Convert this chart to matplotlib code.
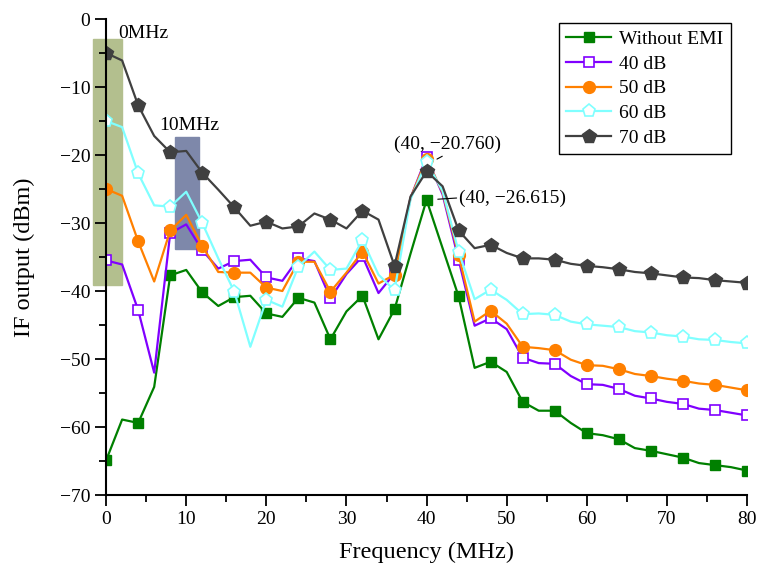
import numpy as np
import matplotlib
matplotlib.use('Agg')
import matplotlib.pyplot as plt
from matplotlib.patches import Rectangle

plt.rcParams['font.family'] = ['Liberation Serif', 'DejaVu Serif']
plt.rcParams['font.size'] = 14

freq = np.arange(0, 82, 2)

without_emi = [-64.9, -58.9, -59.4, -54.1, -37.7, -36.9, -40.2, -42.2, -40.9, -40.7,
               -43.3, -43.8, -41.0, -41.7, -47.1, -43.0, -40.7, -47.1, -42.7, -34.5,
               -26.6, -33.7, -40.8, -51.3, -50.4, -51.9, -56.3, -57.6, -57.6, -59.4,
               -60.9, -61.2, -61.8, -63.1, -63.5, -64.0, -64.5, -65.3, -65.6, -65.9,
               -66.4]
db40 = [-35.5, -36.1, -42.8, -52.0, -31.5, -30.2, -34.0, -36.7, -35.6, -35.4,
        -38.0, -38.5, -35.2, -35.6, -41.1, -37.5, -34.9, -40.3, -37.4, -26.3,
        -20.3, -25.8, -35.4, -45.1, -44.0, -45.6, -49.8, -50.6, -50.7, -52.5,
        -53.7, -53.8, -54.4, -55.4, -55.8, -56.3, -56.6, -57.3, -57.5, -57.9,
        -58.3]
db50 = [-25.0, -26.0, -32.7, -38.6, -31.1, -28.8, -33.4, -37.2, -37.3, -37.3,
        -39.5, -40.0, -35.7, -35.7, -40.1, -37.3, -34.2, -38.9, -37.6, -26.3,
        -20.6, -25.5, -34.7, -44.5, -42.9, -44.8, -48.2, -48.4, -48.7, -50.1,
        -50.9, -51.0, -51.5, -52.2, -52.5, -52.9, -53.2, -53.6, -53.8, -54.2,
        -54.6]
db60 = [-15.0, -15.9, -22.7, -27.4, -27.6, -25.4, -30.0, -35.2, -40.1, -48.2,
        -41.3, -42.3, -36.4, -34.2, -36.9, -36.7, -32.5, -37.6, -39.9, -26.5,
        -21.0, -25.3, -34.2, -41.2, -39.8, -41.3, -43.4, -43.3, -43.5, -44.5,
        -44.9, -45.1, -45.3, -45.9, -46.1, -46.5, -46.7, -47.1, -47.2, -47.5,
        -47.7]
db70 = [-5.0, -6.1, -12.7, -17.2, -19.6, -19.4, -22.6, -25.1, -27.7, -30.4,
        -29.8, -30.8, -30.5, -28.6, -29.5, -30.8, -28.2, -29.5, -36.3, -26.1,
        -22.4, -24.6, -31.1, -33.7, -33.2, -34.4, -35.2, -35.2, -35.4, -36.0,
        -36.3, -36.5, -36.8, -37.2, -37.4, -37.7, -38.0, -38.1, -38.4, -38.6,
        -38.8]

fig = plt.figure(figsize=(7.58, 5.69), dpi=100)
ax = fig.add_axes([0.14, 0.13, 0.8455, 0.8366])

# highlighted bands
ax.add_patch(Rectangle((-1.6, -39.1), 3.6, 36.2, color='#b3bf8e', zorder=0, clip_on=False))
ax.add_patch(Rectangle((8.6, -33.8), 3.0, 16.5, color='#7e88aa', zorder=0))

ax.plot(freq, without_emi, color='#008000', lw=1.6, marker='s', ms=7.5, markevery=2,
        label='Without EMI')
ax.plot(freq, db40, color='#8000ff', lw=1.6, marker='s', ms=7.5, markevery=2,
        mfc='white', mec='#8000ff', mew=1.2, label='40 dB')
ax.plot(freq, db50, color='#ff8000', lw=1.6, marker='o', ms=8.5, markevery=2,
        label='50 dB')
ax.plot(freq, db60, color='#80ffff', lw=1.6, marker='p', ms=9.5, markevery=2,
        mfc='white', mec='#80ffff', mew=1.2, label='60 dB')
ax.plot(freq, db70, color='#404040', lw=1.6, marker='p', ms=10.5, markevery=2,
        label='70 dB')

ax.text(1.5, -2.2, '0MHz', va='center', ha='left')
ax.text(6.6, -15.6, '10MHz', va='center', ha='left')

ax.annotate('(40, \u221220.760)', xy=(41.3, -20.6), xytext=(42.6, -18.5),
            ha='center', va='center',
            arrowprops=dict(arrowstyle='-', color='black', lw=0.8,
                            shrinkA=0, shrinkB=0, relpos=(0.5, 0)))
ax.annotate('(40, \u221226.615)', xy=(41.4, -26.5), xytext=(44.1, -26.3),
            ha='left', va='center',
            arrowprops=dict(arrowstyle='-', color='black', lw=0.8,
                            shrinkA=0, shrinkB=0, relpos=(0, 0.5)))

ax.set_xlim(0, 80)
ax.set_ylim(-70, 0)
ax.set_xticks(np.arange(0, 81, 10))
ax.set_xticks(np.arange(0, 81, 5), minor=True)
ax.set_yticks(np.arange(-70, 1, 10))
ax.set_yticks(np.arange(-70, 1, 5), minor=True)
ax.tick_params(which='major', length=8, width=1.3, direction='out')
ax.tick_params(which='minor', length=5, width=1.3, direction='out')
ax.spines['top'].set_visible(False)
ax.spines['right'].set_visible(False)
ax.spines['left'].set_linewidth(1.5)
ax.spines['bottom'].set_linewidth(1.5)

ax.set_xlabel('Frequency (MHz)', fontsize=17.5, labelpad=10)
ax.set_ylabel('IF output (dBm)', fontsize=17.5, labelpad=18)

leg = ax.legend(loc='upper right', bbox_to_anchor=(0.975, 0.992), borderaxespad=0,
                fancybox=False, edgecolor='black', framealpha=1,
                labelspacing=0.36, handlelength=2.3, handletextpad=0.4)
leg.get_frame().set_linewidth(1.0)

fig.savefig('out.png', dpi=100)
